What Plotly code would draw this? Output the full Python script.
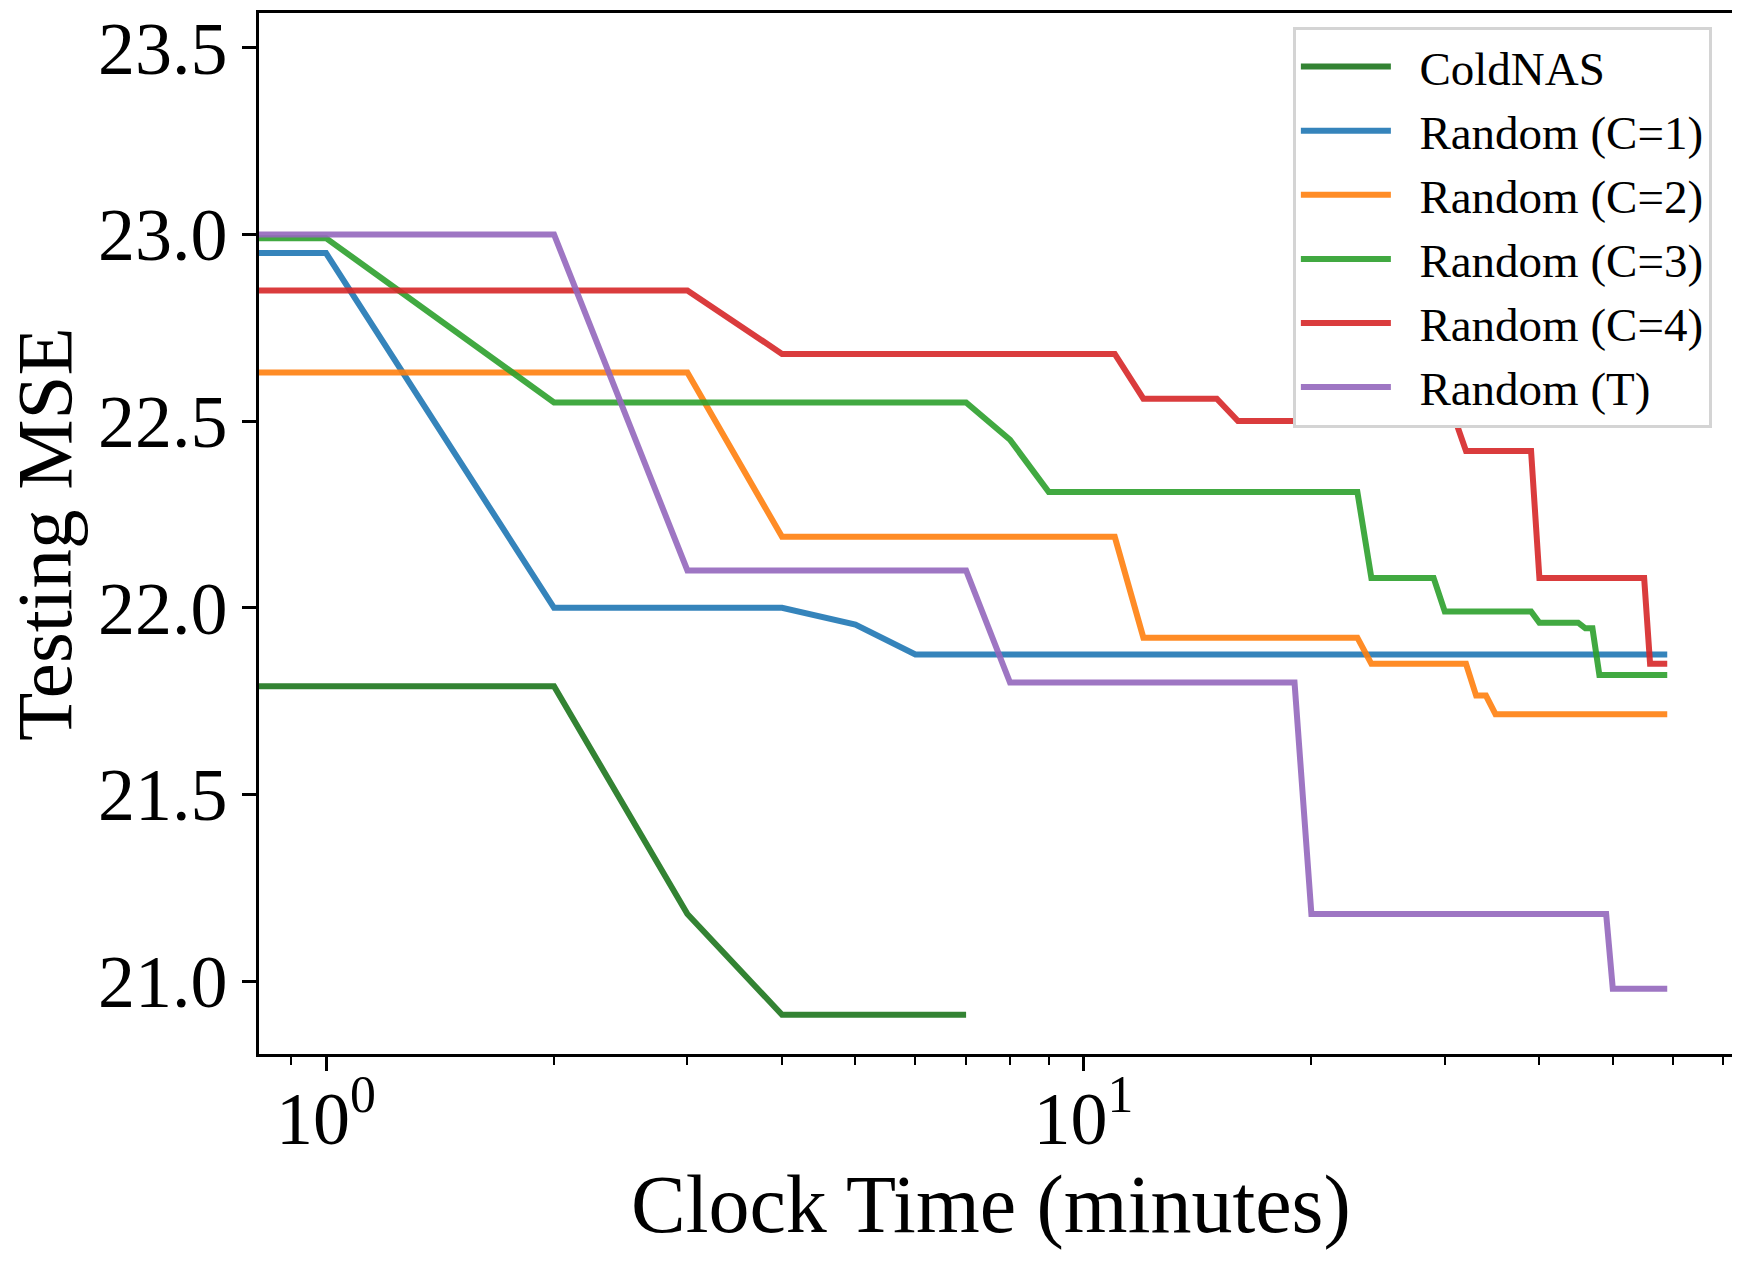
import plotly.graph_objects as go

# minutes (0 = start of search) and best testing MSE so far, only the break points
coldnas_t = [0, 1, 2, 3, 4, 7]
coldnas_mse = [21.79, 21.79, 21.79, 21.18, 20.91, 20.91]

rand_c1_t = [0, 1, 2, 4, 5, 6, 59]
rand_c1_mse = [22.95, 22.95, 22.00, 22.00, 21.955, 21.875, 21.875]

rand_c2_t = [0, 3, 4, 11, 12, 23, 24, 32, 33, 34, 35, 59]
rand_c2_mse = [22.63, 22.63, 22.19, 22.19, 21.92, 21.92, 21.85, 21.85, 21.765, 21.765, 21.715, 21.715]

rand_c3_t = [0, 1, 2, 7, 8, 9, 23, 24, 29, 30, 39, 40, 45, 46, 47, 48, 59]
rand_c3_mse = [22.99, 22.99, 22.55, 22.55, 22.45, 22.31, 22.31, 22.08, 22.08, 21.99, 21.99,
               21.96, 21.96, 21.945, 21.945, 21.82, 21.82]

rand_c4_t = [0, 3, 4, 11, 12, 15, 16, 31, 32, 39, 40, 55, 56, 59]
rand_c4_mse = [22.85, 22.85, 22.68, 22.68, 22.56, 22.56, 22.50, 22.50, 22.42, 22.42,
               22.08, 22.08, 21.85, 21.85]

rand_t_t = [0, 2, 3, 7, 8, 19, 20, 49, 50, 59]
rand_t_mse = [23.0, 23.0, 22.10, 22.10, 21.80, 21.80, 21.18, 21.18, 20.98, 20.98]

names = ["ColdNAS", "Random (C=1)", "Random (C=2)", "Random (C=3)", "Random (C=4)", "Random (T)"]
colors = ["rgba(0,100,0,0.8)", "rgba(31,119,180,0.9)", "rgba(255,127,14,0.9)",
          "rgba(44,160,44,0.9)", "rgba(214,39,40,0.9)", "rgba(148,103,189,0.9)"]

y_ticks = [21.0, 21.5, 22.0, 22.5, 23.0, 23.5]
x_ticks = [1, 10]
x_ticktext = ["10<sup>0</sup>", "10<sup>1</sup>"]
x_minor = [0.9, 2, 3, 4, 5, 6, 7, 8, 9, 20, 30, 40, 50, 60, 70]

FONT = "Liberation Serif"

series = [(coldnas_t, coldnas_mse), (rand_c1_t, rand_c1_mse), (rand_c2_t, rand_c2_mse),
          (rand_c3_t, rand_c3_mse), (rand_c4_t, rand_c4_mse), (rand_t_t, rand_t_mse)]

fig = go.Figure()
for (t, mse), name, col in zip(series, names, colors):
    # t=0 can't live on a log axis, push it off the left edge so the line runs to the frame
    t_plot = [v if v > 0 else 0.5 for v in t]
    fig.add_trace(go.Scatter(x=t_plot, y=mse, mode="lines", name="\u00a0\u00a0" + name,
                             line=dict(color=col, width=6)))

fig.update_xaxes(
    type="log", range=[-0.0885, 1.859],
    tickvals=x_ticks, ticktext=x_ticktext,
    ticks="outside", ticklen=14, tickwidth=2.5, tickcolor="black",
    minor=dict(tickvals=x_minor, ticks="outside", ticklen=8, tickwidth=2, tickcolor="black"),
    showline=True, linecolor="black", linewidth=2.5, mirror=True,
    showgrid=False, zeroline=False,
    tickfont=dict(family=FONT, size=74, color="black"),
    ticklabelstandoff=-16,
)
fig.update_yaxes(
    range=[20.805, 23.593],
    tickvals=y_ticks, tickformat=".1f",
    ticks="outside", ticklen=14, tickwidth=2.5, tickcolor="black",
    showline=True, linecolor="black", linewidth=2.5, mirror=True,
    showgrid=False, zeroline=False,
    tickfont=dict(family=FONT, size=74, color="black"),
    ticklabeloverflow="allow",
)

# axis titles as annotations so they can sit closer to the frame
fig.add_annotation(text="Clock Time (minutes)", xref="paper", yref="paper",
                   x=0.496, y=-0.145, xanchor="center", yanchor="middle", showarrow=False,
                   font=dict(family=FONT, size=82, color="black"))
fig.add_annotation(text="Testing MSE", xref="paper", yref="paper", textangle=-90,
                   x=-0.1455, y=0.5, xanchor="center", yanchor="middle", showarrow=False,
                   font=dict(family=FONT, size=79, color="black"))

# page body adds an 8px offset, so the figure is 8px smaller than the window
fig.update_layout(
    width=1732, height=1254,
    margin=dict(l=251, r=6, t=0, b=208),
    plot_bgcolor="white", paper_bgcolor="white",
    legend=dict(x=0.985, y=0.987, xanchor="right", yanchor="top",
                bgcolor="white", bordercolor="#d4d4d4", borderwidth=3,
                itemwidth=90,
                font=dict(family=FONT, size=47, color="black")),
)

fig.write_html("out.html")
